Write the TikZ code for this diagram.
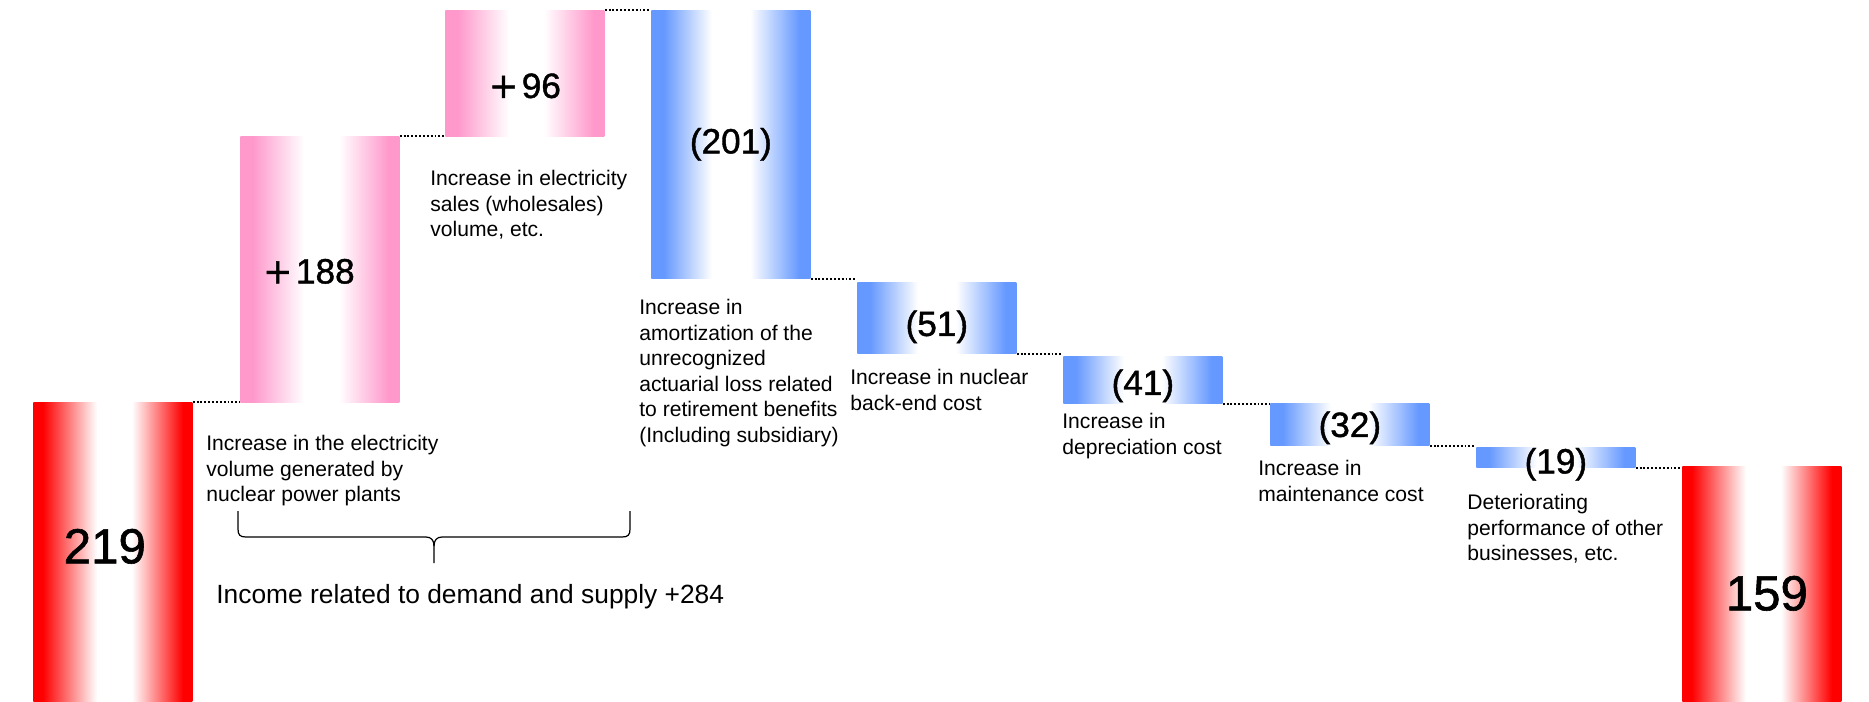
\documentclass[tikz,border=0pt]{standalone}
\usepackage{fontspec}
\setmainfont{Liberation Sans}
\newfontfamily\numfont[FakeBold=1.2]{Liberation Sans}
\newfontfamily\plusfont[FakeBold=1.2]{DejaVu Sans}
\usetikzlibrary{calc}

\definecolor{barred}{RGB}{255,0,0}
\definecolor{barpink}{RGB}{255,153,204}
\definecolor{barblue}{RGB}{102,153,255}

% colour at both edges, white band a bit right of the middle
\pgfdeclarehorizontalshading{redfade}{100bp}{color(0bp)=(barred); color(28bp)=(barred); color(45bp)=(white); color(56bp)=(white); color(72bp)=(barred); color(100bp)=(barred)}
\pgfdeclarehorizontalshading{pinkfade}{100bp}{color(0bp)=(barpink); color(29bp)=(barpink); color(45bp)=(white); color(56bp)=(white); color(71.5bp)=(barpink); color(100bp)=(barpink)}
\pgfdeclarehorizontalshading{bluefade}{100bp}{color(0bp)=(barblue); color(29bp)=(barblue); color(44bp)=(white); color(56bp)=(white); color(71.5bp)=(barblue); color(100bp)=(barblue)}

\tikzset{
  bar/.style={anchor=north west, inner sep=0pt, minimum width=3.18cm},
  totalbar/.style={bar, shading=redfade},
  upbar/.style={bar, shading=pinkfade},
  downbar/.style={bar, shading=bluefade},
  num/.style={inner sep=0pt, font=\numfont\fontsize{20}{24}\selectfont},
  bignum/.style={inner sep=0pt, font=\numfont\fontsize{28}{34}\selectfont},
  note/.style={anchor=north west, inner sep=0pt, align=left, font=\fontsize{12}{14.5}\selectfont},
  dotline/.style={line width=1.1pt, dash pattern=on 1.1pt off 1.1pt},
}

\begin{document}
\begin{tikzpicture}[x=0.2mm, y=-0.2mm]
  \useasboundingbox (0,0) rectangle (1869,701);

  % bars
  \node[totalbar, minimum height=5.98cm] (b219) at (33,402) {};
  \node[upbar, minimum height=5.32cm] (b188) at (240,136) {};
  \node[upbar, minimum height=2.52cm] (b96) at (445,10) {};
  \node[downbar, minimum height=5.36cm] (b201) at (651,10) {};
  \node[downbar, minimum height=1.42cm] (b51) at (857,282) {};
  \node[downbar, minimum height=0.94cm] (b41) at (1063,356) {};
  \node[downbar, minimum height=0.84cm] (b32) at (1270,403) {};
  \node[downbar, minimum height=0.40cm] (b19) at (1476,447) {};
  \node[totalbar, minimum height=4.70cm] (b159) at (1682,466) {};

  % values
  \node[bignum] (n219) at ([xshift=-1.6mm, yshift=1.1mm]b219.center) {219};
  \node[num] (n188) at ([xshift=-2.2mm, yshift=-0.4mm]b188.center) {{\plusfont +}\kern0.1em188};
  \node[num] (n96) at ([yshift=-2.5mm]b96.center) {{\plusfont +}\kern0.1em96};
  \node[num] (n201) at (b201.center) {(201)};
  \node[num] (n51) at ([yshift=-1.8mm]b51.center) {(51)};
  \node[num] (n41) at ([yshift=-1.2mm]b41.center) {(41)};
  \node[num] (n32) at ([yshift=-0.7mm]b32.center) {(32)};
  \node[num] (n19) at ([yshift=-1.4mm]b19.center) {(19)};
  \node[bignum] (n159) at ([xshift=1mm, yshift=-1.9mm]b159.center) {159};

  % steps
  \draw[dotline] (b219.north east) -- (b219.north east -| b188.west);
  \draw[dotline] (b188.north east) -- (b188.north east -| b96.west);
  \draw[dotline] (b96.north east) -- (b96.north east -| b201.west);
  \draw[dotline] (b201.south east) -- (b201.south east -| b51.west);
  \draw[dotline] (b51.south east) -- (b51.south east -| b41.west);
  \draw[dotline] (b41.south east) -- (b41.south east -| b32.west);
  \draw[dotline] (b32.south east) -- (b32.south east -| b19.west);
  \draw[dotline] (b19.south east) -- (b19.south east -| b159.west);

  % notes
  \node[note] (t188) at (206,435) {Increase in the electricity\\volume generated by\\nuclear power plants};
  \node[note] (t96) at (430,170) {Increase in electricity\\sales (wholesales)\\volume, etc.};
  \node[note] (t201) at (639,299) {Increase in\\amortization of the\\unrecognized\\actuarial loss related\\to retirement benefits\\(Including subsidiary)};
  \node[note] (t51) at (850,369) {Increase in nuclear\\back-end cost};
  \node[note] (t41) at (1062,413) {Increase in\\depreciation cost};
  \node[note] (t32) at (1258,460) {Increase in\\maintenance cost};
  \node[note] (t19) at (1467,494) {Deteriorating\\performance of other\\businesses, etc.};

  % brace
  \coordinate (brl) at (238,511);
  \coordinate (brr) at (630,511);
  \coordinate (brt) at (434,563);
  \draw[line width=0.7pt] (brl) -- ++(0,18) .. controls +(0,6) and +(-6,0) .. ++(8,8)
    -- ($(brt)+(-8,-26)$) .. controls +(5,0) and +(0,-6) .. ($(brt)+(0,-17)$) -- (brt);
  \draw[line width=0.7pt] (brr) -- ++(0,18) .. controls +(0,6) and +(6,0) .. ++(-8,8)
    -- ($(brt)+(8,-26)$) .. controls +(-5,0) and +(0,-6) .. ($(brt)+(0,-17)$);
  \node[anchor=west, inner sep=0pt, font=\fontsize{15}{18}\selectfont] (sum) at (216,597) {Income related to demand and supply +284};
\end{tikzpicture}
\end{document}
